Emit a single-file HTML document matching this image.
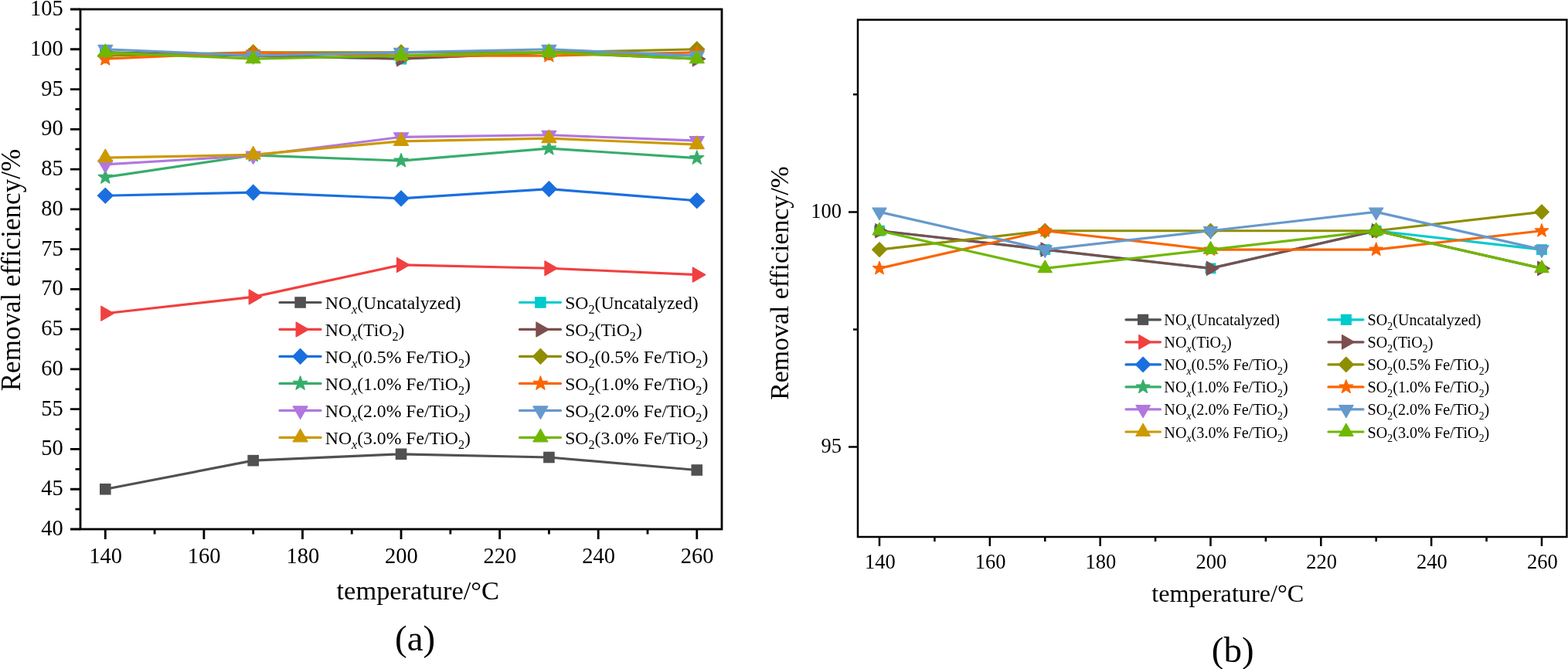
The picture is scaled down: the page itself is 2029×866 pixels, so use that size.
<!DOCTYPE html><html><head><meta charset="utf-8"><style>html,body{margin:0;padding:0;background:#fff;overflow:hidden}svg{display:block}text{font-family:'Liberation Serif', 'Times New Roman', serif;fill:#000}</style></head><body>
<svg width="2029" height="866" viewBox="0 0 2029 866">
<rect width="2029" height="866" fill="#fff"/>
<polyline points="136.3,633.23 327.67,596.16 519.04,587.78 710.41,592.02 901.78,608.49" fill="none" stroke="#515151" stroke-width="3.2" stroke-linejoin="round"/><rect x="129" y="625.93" width="14.6" height="14.6" fill="#515151"/><rect x="320.37" y="588.86" width="14.6" height="14.6" fill="#515151"/><rect x="511.74" y="580.48" width="14.6" height="14.6" fill="#515151"/><rect x="703.11" y="584.72" width="14.6" height="14.6" fill="#515151"/><rect x="894.48" y="601.19" width="14.6" height="14.6" fill="#515151"/>
<polyline points="136.3,405.76 327.67,384.43 519.04,342.91 710.41,347.26 901.78,355.64" fill="none" stroke="#F14040" stroke-width="3.2" stroke-linejoin="round"/><polygon points="147.27,405.76 130.82,415.26 130.82,396.26" fill="#F14040" stroke="#F14040" stroke-width="1.2" stroke-linejoin="round"/><polygon points="338.64,384.43 322.19,393.93 322.19,374.93" fill="#F14040" stroke="#F14040" stroke-width="1.2" stroke-linejoin="round"/><polygon points="530.01,342.91 513.56,352.41 513.56,333.41" fill="#F14040" stroke="#F14040" stroke-width="1.2" stroke-linejoin="round"/><polygon points="721.38,347.26 704.93,356.76 704.93,337.76" fill="#F14040" stroke="#F14040" stroke-width="1.2" stroke-linejoin="round"/><polygon points="912.75,355.64 896.3,365.14 896.3,346.14" fill="#F14040" stroke="#F14040" stroke-width="1.2" stroke-linejoin="round"/>
<polyline points="136.3,253.24 327.67,249.1 519.04,256.87 710.41,244.65 901.78,259.77" fill="none" stroke="#1A6FDF" stroke-width="3.2" stroke-linejoin="round"/><polygon points="136.3,243.34 146.2,253.24 136.3,263.14 126.4,253.24" fill="#1A6FDF" stroke="#1A6FDF" stroke-width="1.2" stroke-linejoin="round"/><polygon points="327.67,239.2 337.57,249.1 327.67,259 317.77,249.1" fill="#1A6FDF" stroke="#1A6FDF" stroke-width="1.2" stroke-linejoin="round"/><polygon points="519.04,246.97 528.94,256.87 519.04,266.77 509.14,256.87" fill="#1A6FDF" stroke="#1A6FDF" stroke-width="1.2" stroke-linejoin="round"/><polygon points="710.41,234.75 720.31,244.65 710.41,254.55 700.51,244.65" fill="#1A6FDF" stroke="#1A6FDF" stroke-width="1.2" stroke-linejoin="round"/><polygon points="901.78,249.87 911.68,259.77 901.78,269.67 891.88,259.77" fill="#1A6FDF" stroke="#1A6FDF" stroke-width="1.2" stroke-linejoin="round"/>
<polyline points="136.3,229.43 327.67,200.96 519.04,208.1 710.41,192.16 901.78,204.58" fill="none" stroke="#37AD6B" stroke-width="3.2" stroke-linejoin="round"/><polygon points="136.3,219.83 138.67,226.17 145.43,226.46 140.13,230.68 141.94,237.2 136.3,233.46 130.66,237.2 132.47,230.68 127.17,226.46 133.93,226.17" fill="#37AD6B" stroke="#37AD6B" stroke-width="1.2" stroke-linejoin="round"/><polygon points="327.67,191.36 330.04,197.7 336.8,197.99 331.5,202.2 333.31,208.72 327.67,204.99 322.03,208.72 323.84,202.2 318.54,197.99 325.3,197.7" fill="#37AD6B" stroke="#37AD6B" stroke-width="1.2" stroke-linejoin="round"/><polygon points="519.04,198.5 521.41,204.84 528.17,205.14 522.87,209.35 524.68,215.87 519.04,212.13 513.4,215.87 515.21,209.35 509.91,205.14 516.67,204.84" fill="#37AD6B" stroke="#37AD6B" stroke-width="1.2" stroke-linejoin="round"/><polygon points="710.41,182.56 712.78,188.89 719.54,189.19 714.24,193.4 716.05,199.92 710.41,196.19 704.77,199.92 706.58,193.4 701.28,189.19 708.04,188.89" fill="#37AD6B" stroke="#37AD6B" stroke-width="1.2" stroke-linejoin="round"/><polygon points="901.78,194.98 904.15,201.32 910.91,201.61 905.61,205.83 907.42,212.35 901.78,208.61 896.14,212.35 897.95,205.83 892.65,201.61 899.41,201.32" fill="#37AD6B" stroke="#37AD6B" stroke-width="1.2" stroke-linejoin="round"/>
<polyline points="136.3,212.86 327.67,201.48 519.04,177.35 710.41,174.76 901.78,182.11" fill="none" stroke="#B177DE" stroke-width="3.2" stroke-linejoin="round"/><polygon points="136.3,223.83 145.8,207.38 126.8,207.38" fill="#B177DE" stroke="#B177DE" stroke-width="1.2" stroke-linejoin="round"/><polygon points="327.67,212.45 337.17,195.99 318.17,195.99" fill="#B177DE" stroke="#B177DE" stroke-width="1.2" stroke-linejoin="round"/><polygon points="519.04,188.32 528.54,171.87 509.54,171.87" fill="#B177DE" stroke="#B177DE" stroke-width="1.2" stroke-linejoin="round"/><polygon points="710.41,185.73 719.91,169.28 700.91,169.28" fill="#B177DE" stroke="#B177DE" stroke-width="1.2" stroke-linejoin="round"/><polygon points="901.78,193.08 911.28,176.63 892.28,176.63" fill="#B177DE" stroke="#B177DE" stroke-width="1.2" stroke-linejoin="round"/>
<polyline points="136.3,204.06 327.67,200.44 519.04,182.84 710.41,179.11 901.78,187.08" fill="none" stroke="#CC9900" stroke-width="3.2" stroke-linejoin="round"/><polygon points="136.3,193.09 145.8,209.55 126.8,209.55" fill="#CC9900" stroke="#CC9900" stroke-width="1.2" stroke-linejoin="round"/><polygon points="327.67,189.47 337.17,205.92 318.17,205.92" fill="#CC9900" stroke="#CC9900" stroke-width="1.2" stroke-linejoin="round"/><polygon points="519.04,171.87 528.54,188.32 509.54,188.32" fill="#CC9900" stroke="#CC9900" stroke-width="1.2" stroke-linejoin="round"/><polygon points="710.41,168.14 719.91,184.6 700.91,184.6" fill="#CC9900" stroke="#CC9900" stroke-width="1.2" stroke-linejoin="round"/><polygon points="901.78,176.11 911.28,192.57 892.28,192.57" fill="#CC9900" stroke="#CC9900" stroke-width="1.2" stroke-linejoin="round"/>
<polyline points="136.3,67.91 327.67,72.05 519.04,76.19 710.41,67.91 901.78,72.05" fill="none" stroke="#00CBCC" stroke-width="3.2" stroke-linejoin="round"/><rect x="129" y="60.61" width="14.6" height="14.6" fill="#00CBCC"/><rect x="320.37" y="64.75" width="14.6" height="14.6" fill="#00CBCC"/><rect x="511.74" y="68.89" width="14.6" height="14.6" fill="#00CBCC"/><rect x="703.11" y="60.61" width="14.6" height="14.6" fill="#00CBCC"/><rect x="894.48" y="64.75" width="14.6" height="14.6" fill="#00CBCC"/>
<polyline points="136.3,67.91 327.67,72.05 519.04,76.19 710.41,67.91 901.78,76.19" fill="none" stroke="#7D4E4E" stroke-width="3.2" stroke-linejoin="round"/><polygon points="147.27,67.91 130.82,77.41 130.82,58.41" fill="#7D4E4E" stroke="#7D4E4E" stroke-width="1.2" stroke-linejoin="round"/><polygon points="338.64,72.05 322.19,81.55 322.19,62.55" fill="#7D4E4E" stroke="#7D4E4E" stroke-width="1.2" stroke-linejoin="round"/><polygon points="530.01,76.19 513.56,85.69 513.56,66.69" fill="#7D4E4E" stroke="#7D4E4E" stroke-width="1.2" stroke-linejoin="round"/><polygon points="721.38,67.91 704.93,77.41 704.93,58.41" fill="#7D4E4E" stroke="#7D4E4E" stroke-width="1.2" stroke-linejoin="round"/><polygon points="912.75,76.19 896.3,85.69 896.3,66.69" fill="#7D4E4E" stroke="#7D4E4E" stroke-width="1.2" stroke-linejoin="round"/>
<polyline points="136.3,72.05 327.67,67.91 519.04,67.91 710.41,67.91 901.78,63.77" fill="none" stroke="#8E8E00" stroke-width="3.2" stroke-linejoin="round"/><polygon points="136.3,62.15 146.2,72.05 136.3,81.95 126.4,72.05" fill="#8E8E00" stroke="#8E8E00" stroke-width="1.2" stroke-linejoin="round"/><polygon points="327.67,58.01 337.57,67.91 327.67,77.81 317.77,67.91" fill="#8E8E00" stroke="#8E8E00" stroke-width="1.2" stroke-linejoin="round"/><polygon points="519.04,58.01 528.94,67.91 519.04,77.81 509.14,67.91" fill="#8E8E00" stroke="#8E8E00" stroke-width="1.2" stroke-linejoin="round"/><polygon points="710.41,58.01 720.31,67.91 710.41,77.81 700.51,67.91" fill="#8E8E00" stroke="#8E8E00" stroke-width="1.2" stroke-linejoin="round"/><polygon points="901.78,53.87 911.68,63.77 901.78,73.67 891.88,63.77" fill="#8E8E00" stroke="#8E8E00" stroke-width="1.2" stroke-linejoin="round"/>
<polyline points="136.3,76.19 327.67,67.91 519.04,72.05 710.41,72.05 901.78,67.91" fill="none" stroke="#FB6501" stroke-width="3.2" stroke-linejoin="round"/><polygon points="136.3,66.59 138.67,72.93 145.43,73.23 140.13,77.44 141.94,83.96 136.3,80.23 130.66,83.96 132.47,77.44 127.17,73.23 133.93,72.93" fill="#FB6501" stroke="#FB6501" stroke-width="1.2" stroke-linejoin="round"/><polygon points="327.67,58.31 330.04,64.65 336.8,64.94 331.5,69.16 333.31,75.68 327.67,71.94 322.03,75.68 323.84,69.16 318.54,64.94 325.3,64.65" fill="#FB6501" stroke="#FB6501" stroke-width="1.2" stroke-linejoin="round"/><polygon points="519.04,62.45 521.41,68.79 528.17,69.09 522.87,73.3 524.68,79.82 519.04,76.08 513.4,79.82 515.21,73.3 509.91,69.09 516.67,68.79" fill="#FB6501" stroke="#FB6501" stroke-width="1.2" stroke-linejoin="round"/><polygon points="710.41,62.45 712.78,68.79 719.54,69.09 714.24,73.3 716.05,79.82 710.41,76.08 704.77,79.82 706.58,73.3 701.28,69.09 708.04,68.79" fill="#FB6501" stroke="#FB6501" stroke-width="1.2" stroke-linejoin="round"/><polygon points="901.78,58.31 904.15,64.65 910.91,64.94 905.61,69.16 907.42,75.68 901.78,71.94 896.14,75.68 897.95,69.16 892.65,64.94 899.41,64.65" fill="#FB6501" stroke="#FB6501" stroke-width="1.2" stroke-linejoin="round"/>
<polyline points="136.3,63.77 327.67,72.05 519.04,67.91 710.41,63.77 901.78,72.05" fill="none" stroke="#6699CC" stroke-width="3.2" stroke-linejoin="round"/><polygon points="136.3,74.74 145.8,58.28 126.8,58.28" fill="#6699CC" stroke="#6699CC" stroke-width="1.2" stroke-linejoin="round"/><polygon points="327.67,83.02 337.17,66.57 318.17,66.57" fill="#6699CC" stroke="#6699CC" stroke-width="1.2" stroke-linejoin="round"/><polygon points="519.04,78.88 528.54,62.43 509.54,62.43" fill="#6699CC" stroke="#6699CC" stroke-width="1.2" stroke-linejoin="round"/><polygon points="710.41,74.74 719.91,58.28 700.91,58.28" fill="#6699CC" stroke="#6699CC" stroke-width="1.2" stroke-linejoin="round"/><polygon points="901.78,83.02 911.28,66.57 892.28,66.57" fill="#6699CC" stroke="#6699CC" stroke-width="1.2" stroke-linejoin="round"/>
<polyline points="136.3,67.91 327.67,76.19 519.04,72.05 710.41,67.91 901.78,76.19" fill="none" stroke="#6FB802" stroke-width="3.2" stroke-linejoin="round"/><polygon points="136.3,56.94 145.8,73.4 126.8,73.4" fill="#6FB802" stroke="#6FB802" stroke-width="1.2" stroke-linejoin="round"/><polygon points="327.67,65.22 337.17,81.68 318.17,81.68" fill="#6FB802" stroke="#6FB802" stroke-width="1.2" stroke-linejoin="round"/><polygon points="519.04,61.08 528.54,77.54 509.54,77.54" fill="#6FB802" stroke="#6FB802" stroke-width="1.2" stroke-linejoin="round"/><polygon points="710.41,56.94 719.91,73.4 700.91,73.4" fill="#6FB802" stroke="#6FB802" stroke-width="1.2" stroke-linejoin="round"/><polygon points="901.78,65.22 911.28,81.68 892.28,81.68" fill="#6FB802" stroke="#6FB802" stroke-width="1.2" stroke-linejoin="round"/>
<rect x="104.0" y="12.0" width="830.0" height="673.0" fill="none" stroke="#000" stroke-width="2.8"/>
<path d="M104,685H91M104,659.12H97.5M104,633.23H91M104,607.35H97.5M104,581.46H91M104,555.58H97.5M104,529.69H91M104,503.81H97.5M104,477.92H91M104,452.04H97.5M104,426.15H91M104,400.27H97.5M104,374.38H91M104,348.5H97.5M104,322.62H91M104,296.73H97.5M104,270.85H91M104,244.96H97.5M104,219.08H91M104,193.19H97.5M104,167.31H91M104,141.42H97.5M104,115.54H91M104,89.65H97.5M104,63.77H91M104,37.88H97.5M104,12H91M136.3,685V698M200.09,685V691.5M263.88,685V698M327.67,685V691.5M391.46,685V698M455.25,685V691.5M519.04,685V698M582.83,685V691.5M646.62,685V698M710.41,685V691.5M774.2,685V698M837.99,685V691.5M901.78,685V698" stroke="#000" stroke-width="2.8" fill="none"/>
<text x="81.8" y="693" font-size="28.5" text-anchor="end">40</text>
<text x="81.8" y="641.23" font-size="28.5" text-anchor="end">45</text>
<text x="81.8" y="589.46" font-size="28.5" text-anchor="end">50</text>
<text x="81.8" y="537.69" font-size="28.5" text-anchor="end">55</text>
<text x="81.8" y="485.92" font-size="28.5" text-anchor="end">60</text>
<text x="81.8" y="434.15" font-size="28.5" text-anchor="end">65</text>
<text x="81.8" y="382.38" font-size="28.5" text-anchor="end">70</text>
<text x="81.8" y="330.62" font-size="28.5" text-anchor="end">75</text>
<text x="81.8" y="278.85" font-size="28.5" text-anchor="end">80</text>
<text x="81.8" y="227.08" font-size="28.5" text-anchor="end">85</text>
<text x="81.8" y="175.31" font-size="28.5" text-anchor="end">90</text>
<text x="81.8" y="123.54" font-size="28.5" text-anchor="end">95</text>
<text x="81.8" y="71.77" font-size="28.5" text-anchor="end">100</text>
<text x="81.8" y="20" font-size="28.5" text-anchor="end">105</text>
<text x="136.6" y="729" font-size="28.5" text-anchor="middle">140</text>
<text x="264.18" y="729" font-size="28.5" text-anchor="middle">160</text>
<text x="391.76" y="729" font-size="28.5" text-anchor="middle">180</text>
<text x="519.34" y="729" font-size="28.5" text-anchor="middle">200</text>
<text x="646.92" y="729" font-size="28.5" text-anchor="middle">220</text>
<text x="774.5" y="729" font-size="28.5" text-anchor="middle">240</text>
<text x="902.08" y="729" font-size="28.5" text-anchor="middle">260</text>
<text transform="translate(25.6,349.6) rotate(-90)" font-size="35" text-anchor="middle">Removal efficiency/%</text>
<text x="540.8" y="776.3" font-size="34.4" text-anchor="middle">temperature/°C</text>
<text x="537.2" y="841.5" font-size="47" text-anchor="middle">(a)</text>
<line x1="362" y1="391.5" x2="415" y2="391.5" stroke="#515151" stroke-width="3.2" stroke-linecap="round"/><rect x="381.3" y="384.2" width="14.6" height="14.6" fill="#515151"/><text x="420.8" y="400.34" font-size="23.7">NO<tspan font-style="italic" font-size="16.2" dy="6.11">x</tspan><tspan dy="-6.11">(Uncatalyzed)</tspan></text><line x1="362" y1="426.47" x2="415" y2="426.47" stroke="#F14040" stroke-width="3.2" stroke-linecap="round"/><polygon points="399.57,426.47 383.12,435.97 383.12,416.97" fill="#F14040" stroke="#F14040" stroke-width="1.2" stroke-linejoin="round"/><text x="420.8" y="435.31" font-size="23.7">NO<tspan font-style="italic" font-size="16.2" dy="6.11">x</tspan><tspan dy="-6.11">(TiO</tspan><tspan font-size="16.2" dy="6.11">2</tspan><tspan dy="-6.11">)</tspan></text><line x1="362" y1="461.44" x2="415" y2="461.44" stroke="#1A6FDF" stroke-width="3.2" stroke-linecap="round"/><polygon points="388.6,451.54 398.5,461.44 388.6,471.34 378.7,461.44" fill="#1A6FDF" stroke="#1A6FDF" stroke-width="1.2" stroke-linejoin="round"/><text x="420.8" y="470.28" font-size="23.7">NO<tspan font-style="italic" font-size="16.2" dy="6.11">x</tspan><tspan dy="-6.11">(0.5% Fe/TiO</tspan><tspan font-size="16.2" dy="6.11">2</tspan><tspan dy="-6.11">)</tspan></text><line x1="362" y1="496.41" x2="415" y2="496.41" stroke="#37AD6B" stroke-width="3.2" stroke-linecap="round"/><polygon points="388.6,486.81 390.97,493.15 397.73,493.44 392.43,497.66 394.24,504.18 388.6,500.44 382.96,504.18 384.77,497.66 379.47,493.44 386.23,493.15" fill="#37AD6B" stroke="#37AD6B" stroke-width="1.2" stroke-linejoin="round"/><text x="420.8" y="505.25" font-size="23.7">NO<tspan font-style="italic" font-size="16.2" dy="6.11">x</tspan><tspan dy="-6.11">(1.0% Fe/TiO</tspan><tspan font-size="16.2" dy="6.11">2</tspan><tspan dy="-6.11">)</tspan></text><line x1="362" y1="531.38" x2="415" y2="531.38" stroke="#B177DE" stroke-width="3.2" stroke-linecap="round"/><polygon points="388.6,542.35 398.1,525.9 379.1,525.9" fill="#B177DE" stroke="#B177DE" stroke-width="1.2" stroke-linejoin="round"/><text x="420.8" y="540.22" font-size="23.7">NO<tspan font-style="italic" font-size="16.2" dy="6.11">x</tspan><tspan dy="-6.11">(2.0% Fe/TiO</tspan><tspan font-size="16.2" dy="6.11">2</tspan><tspan dy="-6.11">)</tspan></text><line x1="362" y1="566.35" x2="415" y2="566.35" stroke="#CC9900" stroke-width="3.2" stroke-linecap="round"/><polygon points="388.6,555.38 398.1,571.83 379.1,571.83" fill="#CC9900" stroke="#CC9900" stroke-width="1.2" stroke-linejoin="round"/><text x="420.8" y="575.19" font-size="23.7">NO<tspan font-style="italic" font-size="16.2" dy="6.11">x</tspan><tspan dy="-6.11">(3.0% Fe/TiO</tspan><tspan font-size="16.2" dy="6.11">2</tspan><tspan dy="-6.11">)</tspan></text>
<line x1="672.5" y1="391.5" x2="725.5" y2="391.5" stroke="#00CBCC" stroke-width="3.2" stroke-linecap="round"/><rect x="692.1" y="384.2" width="14.6" height="14.6" fill="#00CBCC"/><text x="731.2" y="400.34" font-size="23.7">SO<tspan font-size="16.2" dy="6.11">2</tspan><tspan dy="-6.11">(Uncatalyzed)</tspan></text><line x1="672.5" y1="426.47" x2="725.5" y2="426.47" stroke="#7D4E4E" stroke-width="3.2" stroke-linecap="round"/><polygon points="710.37,426.47 693.92,435.97 693.92,416.97" fill="#7D4E4E" stroke="#7D4E4E" stroke-width="1.2" stroke-linejoin="round"/><text x="731.2" y="435.31" font-size="23.7">SO<tspan font-size="16.2" dy="6.11">2</tspan><tspan dy="-6.11">(TiO</tspan><tspan font-size="16.2" dy="6.11">2</tspan><tspan dy="-6.11">)</tspan></text><line x1="672.5" y1="461.44" x2="725.5" y2="461.44" stroke="#8E8E00" stroke-width="3.2" stroke-linecap="round"/><polygon points="699.4,451.54 709.3,461.44 699.4,471.34 689.5,461.44" fill="#8E8E00" stroke="#8E8E00" stroke-width="1.2" stroke-linejoin="round"/><text x="731.2" y="470.28" font-size="23.7">SO<tspan font-size="16.2" dy="6.11">2</tspan><tspan dy="-6.11">(0.5% Fe/TiO</tspan><tspan font-size="16.2" dy="6.11">2</tspan><tspan dy="-6.11">)</tspan></text><line x1="672.5" y1="496.41" x2="725.5" y2="496.41" stroke="#FB6501" stroke-width="3.2" stroke-linecap="round"/><polygon points="699.4,486.81 701.77,493.15 708.53,493.44 703.23,497.66 705.04,504.18 699.4,500.44 693.76,504.18 695.57,497.66 690.27,493.44 697.03,493.15" fill="#FB6501" stroke="#FB6501" stroke-width="1.2" stroke-linejoin="round"/><text x="731.2" y="505.25" font-size="23.7">SO<tspan font-size="16.2" dy="6.11">2</tspan><tspan dy="-6.11">(1.0% Fe/TiO</tspan><tspan font-size="16.2" dy="6.11">2</tspan><tspan dy="-6.11">)</tspan></text><line x1="672.5" y1="531.38" x2="725.5" y2="531.38" stroke="#6699CC" stroke-width="3.2" stroke-linecap="round"/><polygon points="699.4,542.35 708.9,525.9 689.9,525.9" fill="#6699CC" stroke="#6699CC" stroke-width="1.2" stroke-linejoin="round"/><text x="731.2" y="540.22" font-size="23.7">SO<tspan font-size="16.2" dy="6.11">2</tspan><tspan dy="-6.11">(2.0% Fe/TiO</tspan><tspan font-size="16.2" dy="6.11">2</tspan><tspan dy="-6.11">)</tspan></text><line x1="672.5" y1="566.35" x2="725.5" y2="566.35" stroke="#6FB802" stroke-width="3.2" stroke-linecap="round"/><polygon points="699.4,555.38 708.9,571.83 689.9,571.83" fill="#6FB802" stroke="#6FB802" stroke-width="1.2" stroke-linejoin="round"/><text x="731.2" y="575.19" font-size="23.7">SO<tspan font-size="16.2" dy="6.11">2</tspan><tspan dy="-6.11">(3.0% Fe/TiO</tspan><tspan font-size="16.2" dy="6.11">2</tspan><tspan dy="-6.11">)</tspan></text>
<clipPath id="cb"><rect x="1110.0" y="25.6" width="917.4000000000001" height="669.4"/></clipPath>
<g clip-path="url(#cb)">
<polyline points="1138,298.74 1352.25,323.07 1566.5,347.41 1780.75,298.74 1995,323.07" fill="none" stroke="#00CBCC" stroke-width="3.2" stroke-linejoin="round"/><rect x="1131.07" y="291.8" width="13.87" height="13.87" fill="#00CBCC"/><rect x="1345.32" y="316.14" width="13.87" height="13.87" fill="#00CBCC"/><rect x="1559.57" y="340.47" width="13.87" height="13.87" fill="#00CBCC"/><rect x="1773.82" y="291.8" width="13.87" height="13.87" fill="#00CBCC"/><rect x="1988.07" y="316.14" width="13.87" height="13.87" fill="#00CBCC"/>
<polyline points="1138,298.74 1352.25,323.07 1566.5,347.41 1780.75,298.74 1995,347.41" fill="none" stroke="#7D4E4E" stroke-width="3.2" stroke-linejoin="round"/><polygon points="1148.42,298.74 1132.79,307.76 1132.79,289.71" fill="#7D4E4E" stroke="#7D4E4E" stroke-width="1.2" stroke-linejoin="round"/><polygon points="1362.67,323.07 1347.04,332.1 1347.04,314.05" fill="#7D4E4E" stroke="#7D4E4E" stroke-width="1.2" stroke-linejoin="round"/><polygon points="1576.92,347.41 1561.29,356.43 1561.29,338.38" fill="#7D4E4E" stroke="#7D4E4E" stroke-width="1.2" stroke-linejoin="round"/><polygon points="1791.17,298.74 1775.54,307.76 1775.54,289.71" fill="#7D4E4E" stroke="#7D4E4E" stroke-width="1.2" stroke-linejoin="round"/><polygon points="2005.42,347.41 1989.79,356.43 1989.79,338.38" fill="#7D4E4E" stroke="#7D4E4E" stroke-width="1.2" stroke-linejoin="round"/>
<polyline points="1138,323.07 1352.25,298.74 1566.5,298.74 1780.75,298.74 1995,274.4" fill="none" stroke="#8E8E00" stroke-width="3.2" stroke-linejoin="round"/><polygon points="1138,313.67 1147.4,323.07 1138,332.48 1128.6,323.07" fill="#8E8E00" stroke="#8E8E00" stroke-width="1.2" stroke-linejoin="round"/><polygon points="1352.25,289.33 1361.65,298.74 1352.25,308.14 1342.85,298.74" fill="#8E8E00" stroke="#8E8E00" stroke-width="1.2" stroke-linejoin="round"/><polygon points="1566.5,289.33 1575.9,298.74 1566.5,308.14 1557.1,298.74" fill="#8E8E00" stroke="#8E8E00" stroke-width="1.2" stroke-linejoin="round"/><polygon points="1780.75,289.33 1790.15,298.74 1780.75,308.14 1771.35,298.74" fill="#8E8E00" stroke="#8E8E00" stroke-width="1.2" stroke-linejoin="round"/><polygon points="1995,265 2004.4,274.4 1995,283.8 1985.6,274.4" fill="#8E8E00" stroke="#8E8E00" stroke-width="1.2" stroke-linejoin="round"/>
<polyline points="1138,347.41 1352.25,298.74 1566.5,323.07 1780.75,323.07 1995,298.74" fill="none" stroke="#FB6501" stroke-width="3.2" stroke-linejoin="round"/><polygon points="1138,338.29 1140.25,344.31 1146.67,344.59 1141.64,348.59 1143.36,354.79 1138,351.24 1132.64,354.79 1134.36,348.59 1129.33,344.59 1135.75,344.31" fill="#FB6501" stroke="#FB6501" stroke-width="1.2" stroke-linejoin="round"/><polygon points="1352.25,289.62 1354.5,295.64 1360.92,295.92 1355.89,299.92 1357.61,306.11 1352.25,302.57 1346.89,306.11 1348.61,299.92 1343.58,295.92 1350,295.64" fill="#FB6501" stroke="#FB6501" stroke-width="1.2" stroke-linejoin="round"/><polygon points="1566.5,313.95 1568.75,319.97 1575.17,320.25 1570.14,324.26 1571.86,330.45 1566.5,326.9 1561.14,330.45 1562.86,324.26 1557.83,320.25 1564.25,319.97" fill="#FB6501" stroke="#FB6501" stroke-width="1.2" stroke-linejoin="round"/><polygon points="1780.75,313.95 1783,319.97 1789.42,320.25 1784.39,324.26 1786.11,330.45 1780.75,326.9 1775.39,330.45 1777.11,324.26 1772.08,320.25 1778.5,319.97" fill="#FB6501" stroke="#FB6501" stroke-width="1.2" stroke-linejoin="round"/><polygon points="1995,289.62 1997.25,295.64 2003.67,295.92 1998.64,299.92 2000.36,306.11 1995,302.57 1989.64,306.11 1991.36,299.92 1986.33,295.92 1992.75,295.64" fill="#FB6501" stroke="#FB6501" stroke-width="1.2" stroke-linejoin="round"/>
<polyline points="1138,274.4 1352.25,323.07 1566.5,298.74 1780.75,274.4 1995,323.07" fill="none" stroke="#6699CC" stroke-width="3.2" stroke-linejoin="round"/><polygon points="1138,284.82 1147.03,269.19 1128.97,269.19" fill="#6699CC" stroke="#6699CC" stroke-width="1.2" stroke-linejoin="round"/><polygon points="1352.25,333.49 1361.28,317.86 1343.22,317.86" fill="#6699CC" stroke="#6699CC" stroke-width="1.2" stroke-linejoin="round"/><polygon points="1566.5,309.16 1575.53,293.53 1557.47,293.53" fill="#6699CC" stroke="#6699CC" stroke-width="1.2" stroke-linejoin="round"/><polygon points="1780.75,284.82 1789.78,269.19 1771.72,269.19" fill="#6699CC" stroke="#6699CC" stroke-width="1.2" stroke-linejoin="round"/><polygon points="1995,333.49 2004.03,317.86 1985.97,317.86" fill="#6699CC" stroke="#6699CC" stroke-width="1.2" stroke-linejoin="round"/>
<polyline points="1138,298.74 1352.25,347.41 1566.5,323.07 1780.75,298.74 1995,347.41" fill="none" stroke="#6FB802" stroke-width="3.2" stroke-linejoin="round"/><polygon points="1138,288.31 1147.03,303.95 1128.97,303.95" fill="#6FB802" stroke="#6FB802" stroke-width="1.2" stroke-linejoin="round"/><polygon points="1352.25,336.99 1361.28,352.62 1343.22,352.62" fill="#6FB802" stroke="#6FB802" stroke-width="1.2" stroke-linejoin="round"/><polygon points="1566.5,312.65 1575.53,328.28 1557.47,328.28" fill="#6FB802" stroke="#6FB802" stroke-width="1.2" stroke-linejoin="round"/><polygon points="1780.75,288.31 1789.78,303.95 1771.72,303.95" fill="#6FB802" stroke="#6FB802" stroke-width="1.2" stroke-linejoin="round"/><polygon points="1995,336.99 2004.03,352.62 1985.97,352.62" fill="#6FB802" stroke="#6FB802" stroke-width="1.2" stroke-linejoin="round"/>
</g>
<rect x="1110.0" y="25.6" width="917.4" height="669.4" fill="none" stroke="#000" stroke-width="2.5"/>
<path d="M1110,578.6H1098M1110,274.4H1098M1110,426.5H1104M1110,122.3H1104M1138,695V707M1209.42,695V701M1280.83,695V707M1352.25,695V701M1423.67,695V707M1495.08,695V701M1566.5,695V707M1637.92,695V701M1709.33,695V707M1780.75,695V701M1852.17,695V707M1923.58,695V701M1995,695V707" stroke="#000" stroke-width="2.5" fill="none"/>
<text x="1089" y="586" font-size="26.5" text-anchor="end">95</text>
<text x="1089" y="281.8" font-size="26.5" text-anchor="end">100</text>
<text x="1138.8" y="736" font-size="26.5" text-anchor="middle">140</text>
<text x="1281.63" y="736" font-size="26.5" text-anchor="middle">160</text>
<text x="1424.47" y="736" font-size="26.5" text-anchor="middle">180</text>
<text x="1567.3" y="736" font-size="26.5" text-anchor="middle">200</text>
<text x="1710.13" y="736" font-size="26.5" text-anchor="middle">220</text>
<text x="1852.97" y="736" font-size="26.5" text-anchor="middle">240</text>
<text x="1995.8" y="736" font-size="26.5" text-anchor="middle">260</text>
<text transform="translate(1020.2,366.5) rotate(-90)" font-size="33.8" text-anchor="middle">Removal efficiency/%</text>
<text x="1588.75" y="779" font-size="32.2" text-anchor="middle">temperature/°C</text>
<text x="1595.2" y="856.8" font-size="47" text-anchor="middle">(b)</text>
<line x1="1457" y1="413.8" x2="1501.5" y2="413.8" stroke="#515151" stroke-width="3.2" stroke-linecap="round"/><rect x="1472.02" y="406.72" width="14.16" height="14.16" fill="#515151"/><text x="1506.3" y="421.33" font-size="20.2">NO<tspan font-style="italic" font-size="13.8" dy="5.21">x</tspan><tspan dy="-5.21">(Uncatalyzed)</tspan></text><line x1="1457" y1="442.84" x2="1501.5" y2="442.84" stroke="#F14040" stroke-width="3.2" stroke-linecap="round"/><polygon points="1489.74,442.84 1473.78,452.06 1473.78,433.63" fill="#F14040" stroke="#F14040" stroke-width="1.2" stroke-linejoin="round"/><text x="1506.3" y="450.37" font-size="20.2">NO<tspan font-style="italic" font-size="13.8" dy="5.21">x</tspan><tspan dy="-5.21">(TiO</tspan><tspan font-size="13.8" dy="5.21">2</tspan><tspan dy="-5.21">)</tspan></text><line x1="1457" y1="471.88" x2="1501.5" y2="471.88" stroke="#1A6FDF" stroke-width="3.2" stroke-linecap="round"/><polygon points="1479.1,462.28 1488.7,471.88 1479.1,481.48 1469.5,471.88" fill="#1A6FDF" stroke="#1A6FDF" stroke-width="1.2" stroke-linejoin="round"/><text x="1506.3" y="479.41" font-size="20.2">NO<tspan font-style="italic" font-size="13.8" dy="5.21">x</tspan><tspan dy="-5.21">(0.5% Fe/TiO</tspan><tspan font-size="13.8" dy="5.21">2</tspan><tspan dy="-5.21">)</tspan></text><line x1="1457" y1="500.92" x2="1501.5" y2="500.92" stroke="#37AD6B" stroke-width="3.2" stroke-linecap="round"/><polygon points="1479.1,491.61 1481.4,497.76 1487.96,498.04 1482.82,502.13 1484.57,508.45 1479.1,504.83 1473.63,508.45 1475.38,502.13 1470.24,498.04 1476.8,497.76" fill="#37AD6B" stroke="#37AD6B" stroke-width="1.2" stroke-linejoin="round"/><text x="1506.3" y="508.45" font-size="20.2">NO<tspan font-style="italic" font-size="13.8" dy="5.21">x</tspan><tspan dy="-5.21">(1.0% Fe/TiO</tspan><tspan font-size="13.8" dy="5.21">2</tspan><tspan dy="-5.21">)</tspan></text><line x1="1457" y1="529.96" x2="1501.5" y2="529.96" stroke="#B177DE" stroke-width="3.2" stroke-linecap="round"/><polygon points="1479.1,540.6 1488.31,524.64 1469.88,524.64" fill="#B177DE" stroke="#B177DE" stroke-width="1.2" stroke-linejoin="round"/><text x="1506.3" y="537.49" font-size="20.2">NO<tspan font-style="italic" font-size="13.8" dy="5.21">x</tspan><tspan dy="-5.21">(2.0% Fe/TiO</tspan><tspan font-size="13.8" dy="5.21">2</tspan><tspan dy="-5.21">)</tspan></text><line x1="1457" y1="559" x2="1501.5" y2="559" stroke="#CC9900" stroke-width="3.2" stroke-linecap="round"/><polygon points="1479.1,548.36 1488.31,564.32 1469.88,564.32" fill="#CC9900" stroke="#CC9900" stroke-width="1.2" stroke-linejoin="round"/><text x="1506.3" y="566.53" font-size="20.2">NO<tspan font-style="italic" font-size="13.8" dy="5.21">x</tspan><tspan dy="-5.21">(3.0% Fe/TiO</tspan><tspan font-size="13.8" dy="5.21">2</tspan><tspan dy="-5.21">)</tspan></text>
<line x1="1719" y1="413.8" x2="1764" y2="413.8" stroke="#00CBCC" stroke-width="3.2" stroke-linecap="round"/><rect x="1734.82" y="406.72" width="14.16" height="14.16" fill="#00CBCC"/><text x="1769.5" y="421.33" font-size="20.2">SO<tspan font-size="13.8" dy="5.21">2</tspan><tspan dy="-5.21">(Uncatalyzed)</tspan></text><line x1="1719" y1="442.84" x2="1764" y2="442.84" stroke="#7D4E4E" stroke-width="3.2" stroke-linecap="round"/><polygon points="1752.54,442.84 1736.58,452.06 1736.58,433.63" fill="#7D4E4E" stroke="#7D4E4E" stroke-width="1.2" stroke-linejoin="round"/><text x="1769.5" y="450.37" font-size="20.2">SO<tspan font-size="13.8" dy="5.21">2</tspan><tspan dy="-5.21">(TiO</tspan><tspan font-size="13.8" dy="5.21">2</tspan><tspan dy="-5.21">)</tspan></text><line x1="1719" y1="471.88" x2="1764" y2="471.88" stroke="#8E8E00" stroke-width="3.2" stroke-linecap="round"/><polygon points="1741.9,462.28 1751.5,471.88 1741.9,481.48 1732.3,471.88" fill="#8E8E00" stroke="#8E8E00" stroke-width="1.2" stroke-linejoin="round"/><text x="1769.5" y="479.41" font-size="20.2">SO<tspan font-size="13.8" dy="5.21">2</tspan><tspan dy="-5.21">(0.5% Fe/TiO</tspan><tspan font-size="13.8" dy="5.21">2</tspan><tspan dy="-5.21">)</tspan></text><line x1="1719" y1="500.92" x2="1764" y2="500.92" stroke="#FB6501" stroke-width="3.2" stroke-linecap="round"/><polygon points="1741.9,491.61 1744.2,497.76 1750.76,498.04 1745.62,502.13 1747.37,508.45 1741.9,504.83 1736.43,508.45 1738.18,502.13 1733.04,498.04 1739.6,497.76" fill="#FB6501" stroke="#FB6501" stroke-width="1.2" stroke-linejoin="round"/><text x="1769.5" y="508.45" font-size="20.2">SO<tspan font-size="13.8" dy="5.21">2</tspan><tspan dy="-5.21">(1.0% Fe/TiO</tspan><tspan font-size="13.8" dy="5.21">2</tspan><tspan dy="-5.21">)</tspan></text><line x1="1719" y1="529.96" x2="1764" y2="529.96" stroke="#6699CC" stroke-width="3.2" stroke-linecap="round"/><polygon points="1741.9,540.6 1751.12,524.64 1732.69,524.64" fill="#6699CC" stroke="#6699CC" stroke-width="1.2" stroke-linejoin="round"/><text x="1769.5" y="537.49" font-size="20.2">SO<tspan font-size="13.8" dy="5.21">2</tspan><tspan dy="-5.21">(2.0% Fe/TiO</tspan><tspan font-size="13.8" dy="5.21">2</tspan><tspan dy="-5.21">)</tspan></text><line x1="1719" y1="559" x2="1764" y2="559" stroke="#6FB802" stroke-width="3.2" stroke-linecap="round"/><polygon points="1741.9,548.36 1751.12,564.32 1732.69,564.32" fill="#6FB802" stroke="#6FB802" stroke-width="1.2" stroke-linejoin="round"/><text x="1769.5" y="566.53" font-size="20.2">SO<tspan font-size="13.8" dy="5.21">2</tspan><tspan dy="-5.21">(3.0% Fe/TiO</tspan><tspan font-size="13.8" dy="5.21">2</tspan><tspan dy="-5.21">)</tspan></text>
</svg></body></html>
